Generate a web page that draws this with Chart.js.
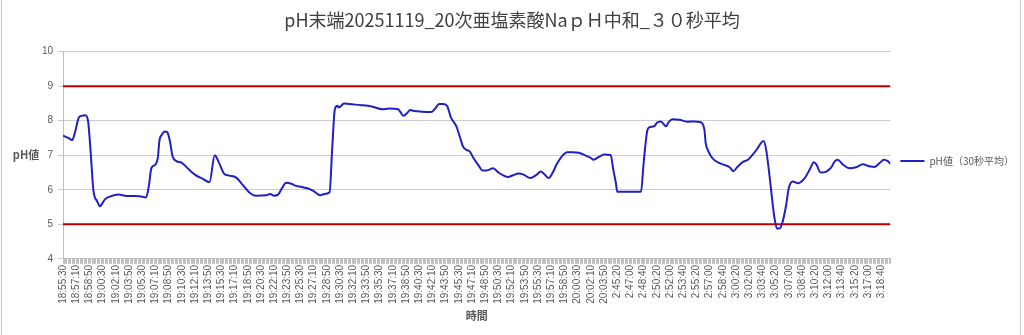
<!DOCTYPE html>
<html>
<head>
<meta charset="utf-8">
<script src="https://cdn.jsdelivr.net/npm/chart.js@4"></script>
<style>
  body { margin: 0; background: #fff; }
</style>
</head>
<body>
<canvas id="myChart" width="1024" height="335"></canvas>
<script>
// time labels, one per 10 samples
const tickLabels = [
  '18:55:30', '18:57:10', '18:58:50', '19:00:30', '19:02:10', '19:03:50', '19:05:30', '19:07:10',
  '19:08:50', '19:10:30', '19:12:10', '19:13:50', '19:15:30', '19:17:10', '19:18:50', '19:20:30',
  '19:22:10', '19:23:50', '19:25:30', '19:27:10', '19:28:50', '19:30:30', '19:32:10', '19:33:50',
  '19:35:30', '19:37:10', '19:38:50', '19:40:30', '19:42:10', '19:43:50', '19:45:30', '19:47:10',
  '19:48:50', '19:50:30', '19:52:10', '19:53:50', '19:55:30', '19:57:10', '19:58:50', '20:00:30',
  '20:02:10', '20:03:50', '2:45:20', '2:47:00', '2:48:40', '2:50:20', '2:52:00', '2:53:40',
  '2:55:20', '2:57:00', '2:58:40', '3:00:20', '3:02:00', '3:03:40', '3:05:20', '3:07:00',
  '3:08:40', '3:10:20', '3:12:00', '3:13:40', '3:15:20', '3:17:00', '3:18:40'
];
const lastSample = 627;

// sample number -> pH (30 s average)
const sampleIndex = [
  0, 4, 7, 9, 12, 14, 17, 19, 21, 23, 26, 28, 29, 32, 36, 42, 47, 51, 58, 63,
  65, 67, 70, 72, 73, 75, 77, 79, 81, 83, 86, 90, 97, 100, 103, 105, 111, 115, 118, 122,
  126, 131, 136, 141, 146, 154, 157, 160, 163, 166, 169, 172, 176, 181, 187, 190, 195, 198, 202, 204,
  206, 208, 209, 213, 217, 226, 234, 242, 247, 254, 256, 258, 261, 263, 266, 272, 279, 282, 285, 288,
  291, 294, 298, 301, 303, 306, 308, 311, 315, 318, 321, 326, 330, 334, 337, 341, 345, 349, 354, 359,
  362, 365, 368, 371, 374, 378, 382, 386, 391, 396, 400, 402, 406, 410, 415, 417, 419, 420, 429, 438,
  440, 443, 445, 448, 450, 453, 457, 459, 462, 467, 473, 478, 483, 486, 487, 489, 492, 496, 501, 505,
  508, 511, 515, 519, 522, 526, 529, 531, 533, 535, 537, 539, 541, 543, 545, 548, 550, 553, 557, 561,
  563, 566, 569, 571, 574, 578, 582, 585, 587, 591, 596, 601, 606, 611, 615, 619, 622, 625, 627
];
const phValues = [
  7.57, 7.50, 7.44, 7.65, 8.09, 8.14, 8.16, 7.99, 7.07, 6.00, 5.66, 5.52, 5.56, 5.73, 5.81, 5.86, 5.83, 5.82, 5.81, 5.78,
  6.10, 6.63, 6.73, 6.97, 7.41, 7.60, 7.69, 7.67, 7.41, 6.97, 6.83, 6.78, 6.53, 6.44, 6.37, 6.34, 6.22, 7.00, 6.80, 6.47,
  6.41, 6.36, 6.15, 5.93, 5.83, 5.84, 5.88, 5.83, 5.86, 6.05, 6.20, 6.19, 6.12, 6.08, 6.02, 5.96, 5.84, 5.88, 5.93, 7.20,
  8.33, 8.43, 8.38, 8.50, 8.48, 8.45, 8.41, 8.33, 8.35, 8.33, 8.23, 8.14, 8.23, 8.31, 8.28, 8.26, 8.25, 8.35, 8.48, 8.48,
  8.43, 8.09, 7.84, 7.50, 7.26, 7.15, 7.12, 6.92, 6.70, 6.56, 6.56, 6.62, 6.50, 6.41, 6.37, 6.42, 6.47, 6.44, 6.34, 6.44,
  6.53, 6.44, 6.34, 6.49, 6.73, 6.97, 7.09, 7.09, 7.07, 6.99, 6.92, 6.87, 6.95, 7.02, 7.01, 6.58, 6.19, 5.94, 5.94, 5.94,
  6.78, 7.75, 7.82, 7.84, 7.94, 7.98, 7.84, 7.96, 8.04, 8.03, 7.97, 7.98, 7.96, 7.75, 7.36, 7.12, 6.92, 6.80, 6.72, 6.66,
  6.54, 6.66, 6.80, 6.87, 6.99, 7.18, 7.36, 7.41, 7.12, 6.53, 5.85, 5.22, 4.88, 4.88, 5.03, 5.56, 6.05, 6.24, 6.19, 6.29,
  6.39, 6.60, 6.80, 6.73, 6.50, 6.52, 6.64, 6.83, 6.87, 6.73, 6.62, 6.65, 6.74, 6.68, 6.66, 6.78, 6.87, 6.83, 6.75
];

// control limits drawn as red lines
const upperLimit = 9;
const lowerLimit = 5;

const jpFont = "'Noto Sans CJK JP', 'Noto Sans', sans-serif";
const numFont = "'Liberation Sans', Arial, sans-serif";
const textColor = '#595959';

const points = sampleIndex.map((x, i) => ({ x: x, y: phValues[i] }));
const limitLine = v => [{ x: 0, y: v }, { x: lastSample, y: v }];

// horizontal y title + outer frame, the way the spreadsheet drew them
const extras = {
  id: 'extras',
  afterDraw(chart) {
    const c = chart.ctx;
    const area = chart.chartArea;
    c.save();
    c.fillStyle = textColor;
    c.font = "bold 11px " + jpFont;
    c.textAlign = 'center';
    c.textBaseline = 'middle';
    c.fillText('pH値', 26, (area.top + area.bottom) / 2);
    c.strokeStyle = '#c8c8c8';
    c.lineWidth = 1;
    c.beginPath();
    c.moveTo(1.5, 0);
    c.lineTo(1.5, chart.height);
    c.moveTo(1020.5, 0);
    c.lineTo(1020.5, chart.height);
    c.stroke();
    c.restore();
  }
};

const ctx = document.getElementById('myChart').getContext('2d');

const myChart = new Chart(ctx, {
  type: 'line',
  data: {
    datasets: [
      {
        label: 'pH値（30秒平均）',
        data: points,
        borderColor: '#1f1fc8',
        backgroundColor: '#1f1fc8',
        borderWidth: 2,
        pointRadius: 0,
        tension: 0.4,
        cubicInterpolationMode: 'monotone',
        order: 0
      },
      {
        label: 'upper',
        data: limitLine(upperLimit),
        borderColor: '#c00000',
        borderWidth: 2,
        pointRadius: 0,
        order: 1
      },
      {
        label: 'lower',
        data: limitLine(lowerLimit),
        borderColor: '#c00000',
        borderWidth: 2,
        pointRadius: 0,
        order: 1
      }
    ]
  },
  options: {
    responsive: false,
    animation: false,
    devicePixelRatio: 1,
    layout: { padding: { left: 0, right: 0, top: 0, bottom: 13 } },
    plugins: {
      title: {
        display: true,
        text: 'pH末端20251119_20次亜塩素酸NaｐＨ中和_３０秒平均',
        color: '#404040',
        font: { family: jpFont, size: 18, weight: 'normal' },
        padding: { top: 9, bottom: 21 }
      },
      legend: {
        display: true,
        position: 'right',
        labels: {
          filter: item => item.datasetIndex === 0,
          usePointStyle: true,
          pointStyle: 'line',
          pointStyleWidth: 24,
          color: textColor,
          font: { family: jpFont, size: 10 }
        }
      },
      tooltip: { enabled: false }
    },
    scales: {
      x: {
        type: 'linear',
        min: 0,
        max: lastSample,
        title: {
          display: true,
          text: '時間',
          color: textColor,
          font: { family: jpFont, size: 11, weight: 'bold' },
          padding: { top: 4, bottom: 0 }
        },
        grid: { drawOnChartArea: false, color: '#bfbfbf', tickLength: 5 },
        border: { color: '#bfbfbf' },
        ticks: {
          stepSize: 1,
          autoSkip: false,
          minRotation: 90,
          maxRotation: 90,
          padding: 1,
          color: textColor,
          font: { family: numFont, size: 10 },
          callback: v => (v % 10 === 0 ? tickLabels[v / 10] : '')
        }
      },
      y: {
        min: 4,
        max: 10,
        afterFit: s => { s.width = 63; },
        grid: { color: '#cccccc', tickLength: 5 },
        border: { color: '#bfbfbf' },
        ticks: {
          stepSize: 1,
          padding: 5,
          color: textColor,
          font: { family: numFont, size: 10 }
        }
      }
    }
  },
  plugins: [extras]
});
</script>
</body>
</html>
